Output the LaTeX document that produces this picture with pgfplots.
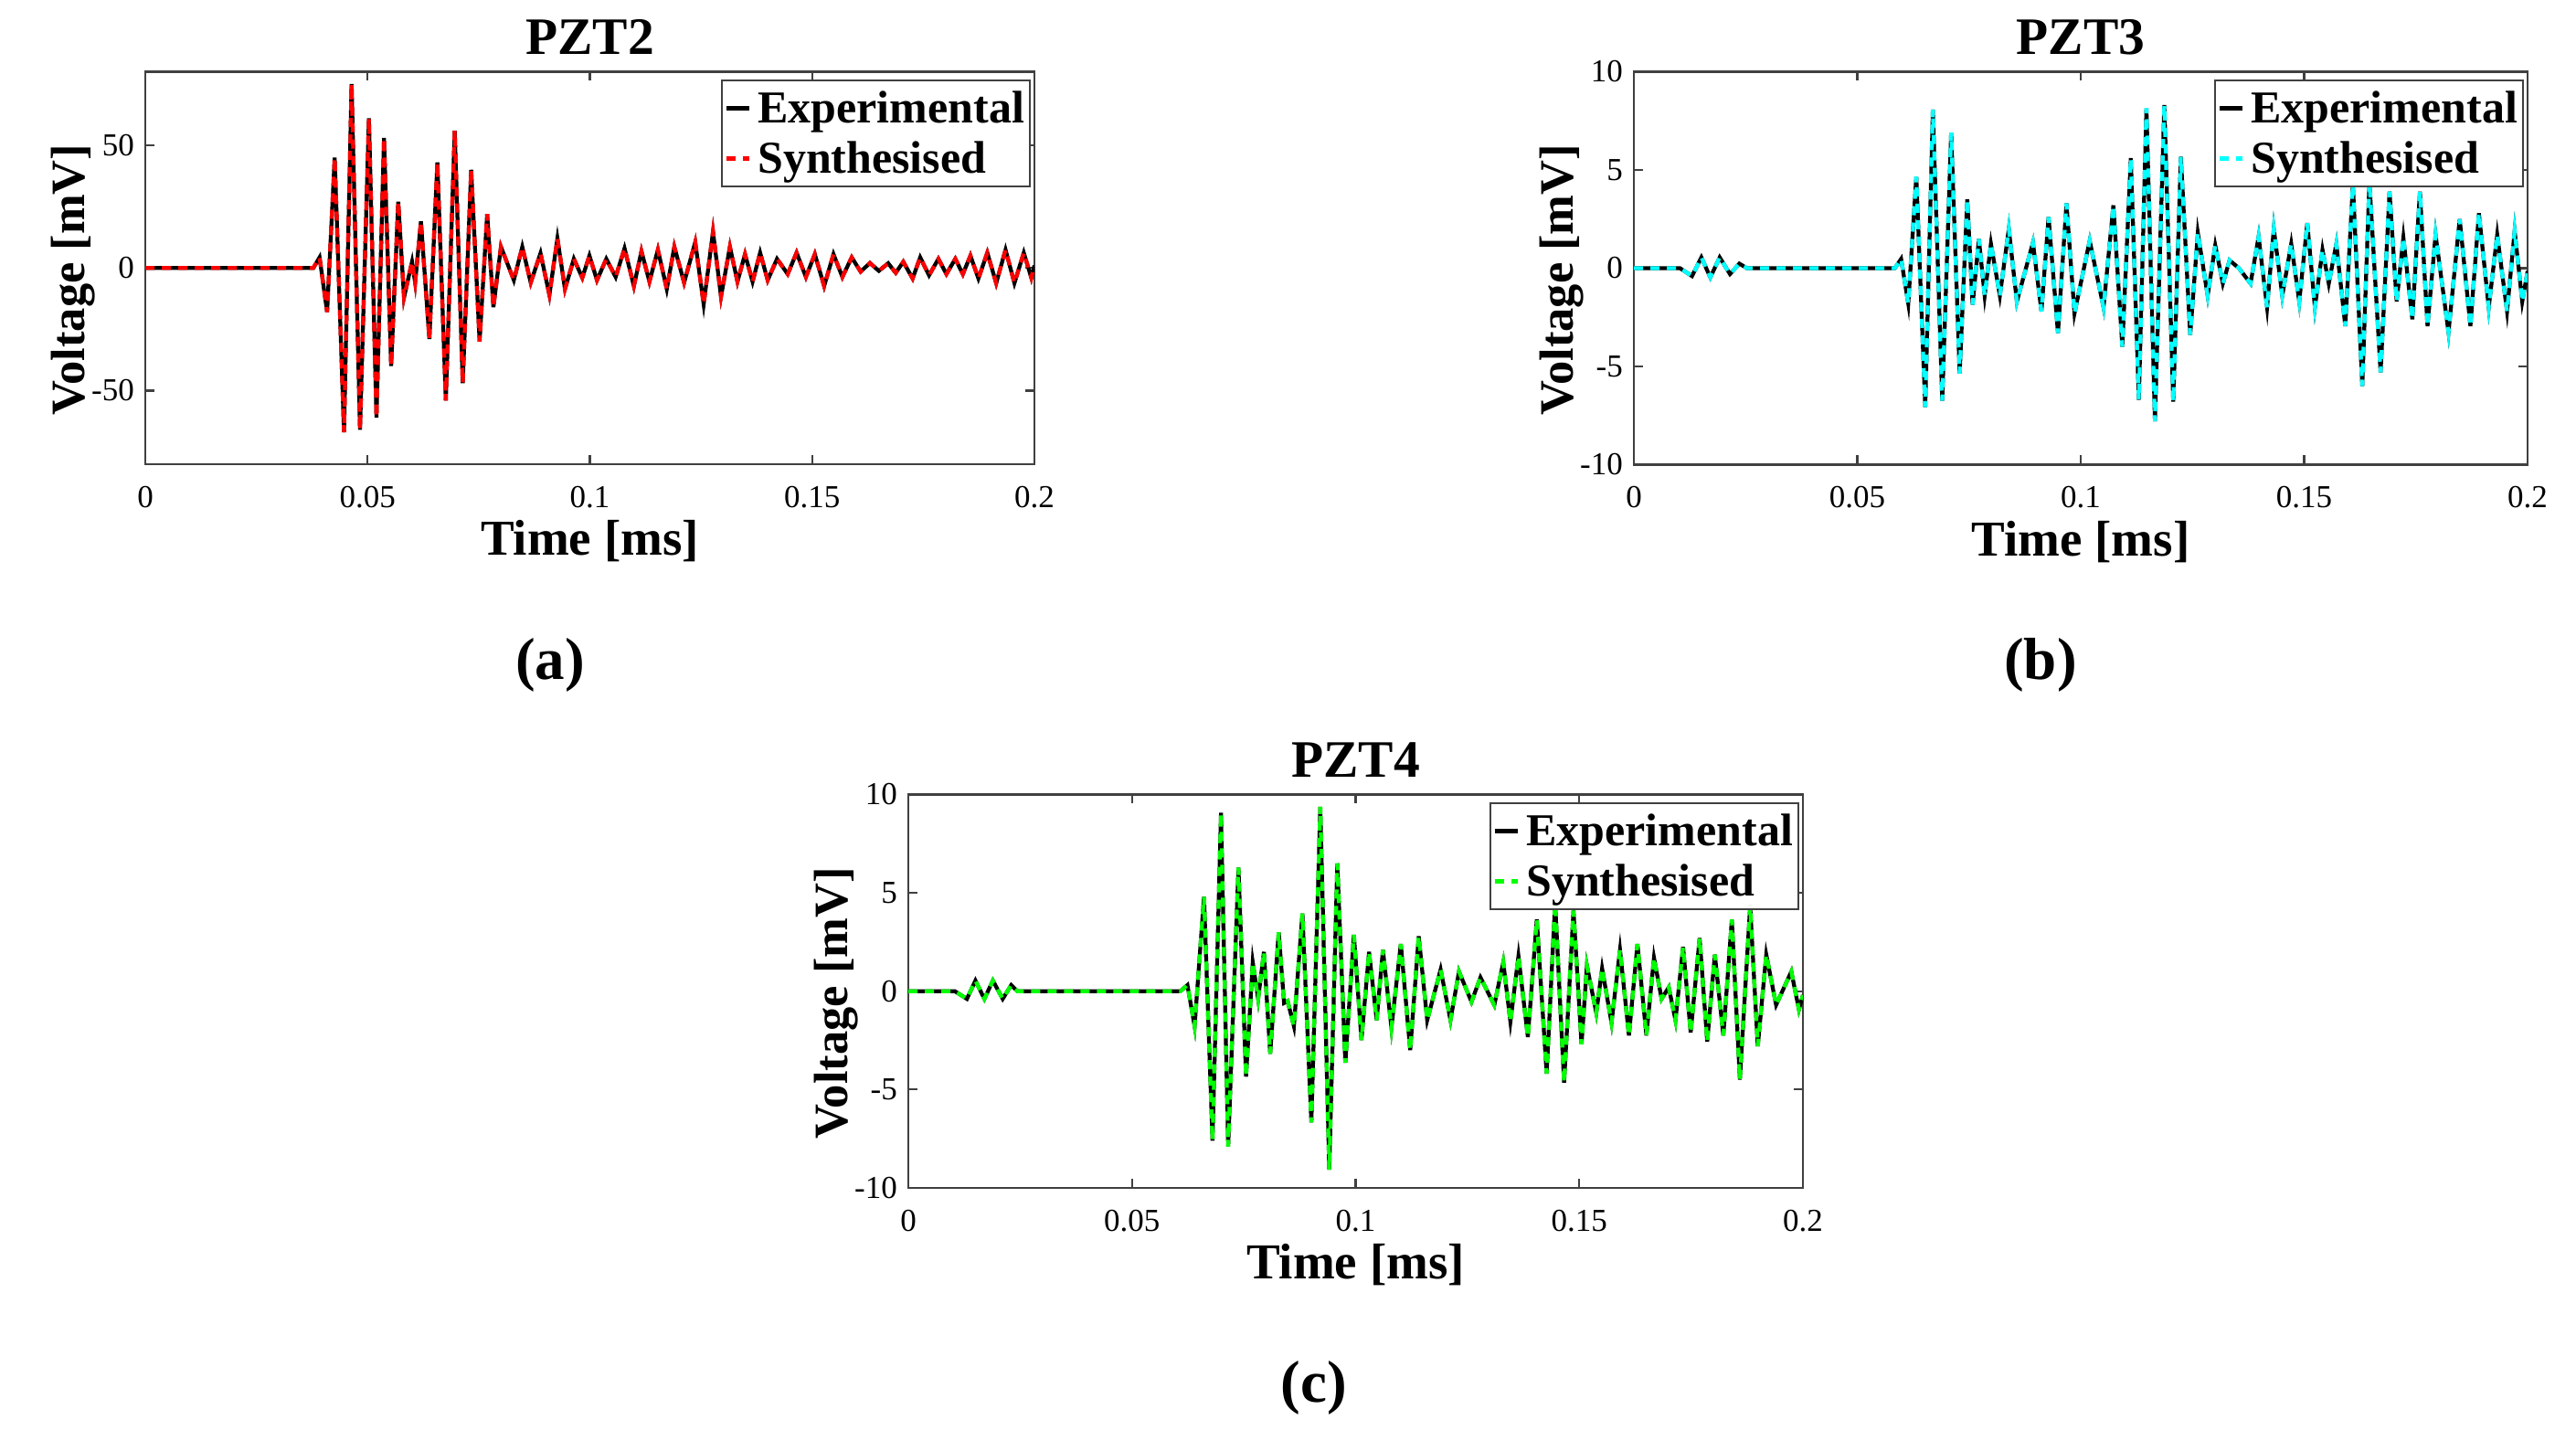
\documentclass[border=0pt]{standalone}
\usepackage{fontspec}
\setmainfont{Liberation Serif}
\usepackage{pgfplots}
\usepackage{pgfplotstable}
\pgfplotsset{compat=1.18}

\definecolor{axgray}{gray}{0.25}
\definecolor{mred}{rgb}{1,0,0}
\definecolor{mcyan}{rgb}{0,1,1}
\definecolor{mgreen}{rgb}{0,1,0}

% PZT2 response (mV), peaks and troughs
\pgfplotstableread{
t v
0 0
0.0378 0
0.0392 4.3
0.0409 -18
0.0426 45
0.0447 -67
0.0464 75
0.0483 -66
0.0503 61
0.0520 -61
0.0537 53
0.0553 -40
0.0569 27
0.0582 -12
0.0600 2.5
0.0607 -6
0.0620 19
0.0639 -29
0.0657 43
0.0676 -54
0.0696 56
0.0714 -47
0.0733 40
0.0752 -30
0.0769 22
0.0783 -16
0.0800 8.6
0.0829 -5
0.0848 8.6
0.0867 -6
0.0889 6
0.0909 -11
0.0927 12
0.0944 -8.6
0.0964 3.7
0.0983 -4
0.0999 5
0.1016 -5
0.1037 3.7
0.1058 -3.7
0.1078 8
0.1099 -7.4
0.1116 6.8
0.1134 -5.6
0.1153 7.4
0.1173 -8.6
0.1190 8.6
0.1212 -6
0.1237 10.5
0.1256 -14.8
0.1277 14.8
0.1295 -11.7
0.1315 8.6
0.1332 -5.6
0.1349 5.6
0.1366 -5.6
0.1383 6.2
0.1400 -5
0.1421 3.7
0.1445 -2.5
0.1465 6.2
0.1486 -3.7
0.1506 5.6
0.1527 -7.4
0.1548 5.6
0.1568 -3.7
0.1589 4.3
0.1609 -1.5
0.1630 2
0.1650 -1.2
0.1671 1.9
0.1688 -2
0.1705 2.5
0.1726 -4.3
0.1743 4.3
0.1763 -3
0.1784 3.7
0.1802 -2.5
0.1822 3.7
0.1839 -2.5
0.1856 5
0.1874 -4.3
0.1894 6.2
0.1914 -6.2
0.1935 7.4
0.1955 -6.2
0.1976 6.2
0.1993 -4
0.2000 1
}\dataA

% PZT3
\pgfplotstableread{
t v
0 0
0.0103 0
0.0130 -0.4
0.0151 0.55
0.0171 -0.47
0.0192 0.55
0.0215 -0.3
0.0236 0.23
0.0253 0
0.0584 0
0.0598 0.47
0.0614 -1.8
0.0632 4.66
0.0652 -7.07
0.0669 8.07
0.0690 -6.75
0.0710 6.9
0.0729 -5.36
0.0746 3.5
0.0758 -1.86
0.0772 1.48
0.0785 -1.4
0.0799 1.24
0.0819 -1.4
0.0839 2.0
0.0857 -1.7
0.0893 1.3
0.0912 -2.2
0.0928 2.6
0.0949 -3.3
0.0968 3.3
0.0986 -2.3
0.1020 1.4
0.1051 -2.0
0.1073 3.2
0.1093 -4.0
0.1112 5.6
0.1130 -6.7
0.1147 8.15
0.1166 -7.8
0.1187 8.3
0.1207 -6.8
0.1224 5.67
0.1245 -3.4
0.1262 1.8
0.1284 -1.4
0.1301 1.16
0.1318 -0.78
0.1333 0.4
0.1354 0
0.1380 -0.78
0.1398 1.6
0.1417 -2.0
0.1432 2.0
0.1451 -1.4
0.1471 1.24
0.1489 -1.7
0.1507 2.3
0.1524 -2.0
0.1541 0.93
0.1555 -0.78
0.1572 1.24
0.1592 -2.95
0.1609 4.27
0.1630 -6.0
0.1646 4.4
0.1671 -5.3
0.1691 3.9
0.1707 -1.7
0.1722 1.55
0.1742 -2.6
0.1759 3.9
0.1776 -2.95
0.1794 1.7
0.1823 -3.26
0.1848 2.5
0.1872 -2.95
0.1891 2.8
0.1913 -2.0
0.1932 1.7
0.1954 -2.2
0.1971 1.9
0.1988 -1.7
0.2000 -0.15
}\dataB

% PZT4
\pgfplotstableread{
t v
0 0
0.0104 0
0.0131 -0.39
0.0150 0.54
0.0170 -0.39
0.0189 0.54
0.0211 -0.39
0.0230 0.31
0.0244 0
0.0608 0
0.0624 0.31
0.0640 -1.78
0.0661 4.8
0.0680 -7.6
0.0699 9.07
0.0715 -7.9
0.0738 6.28
0.0755 -4.34
0.0770 1.47
0.0782 -0.39
0.0795 2.0
0.0809 -3.18
0.0828 3.0
0.0840 -0.6
0.0848 -0.5
0.0862 -1.78
0.0881 3.95
0.0901 -6.67
0.0921 9.38
0.0941 -9.07
0.0959 6.5
0.0977 -3.64
0.0996 2.87
0.1013 -2.48
0.1030 2.0
0.1047 -1.47
0.1061 2.1
0.1080 -1.86
0.1101 2.4
0.1122 -3.0
0.1141 2.8
0.1160 -1.47
0.1190 1.1
0.1212 -1.47
0.1231 1.0
0.1259 -0.54
0.1279 0.7
0.1310 -0.7
0.1330 1.47
0.1346 -1.55
0.1364 1.78
0.1385 -2.33
0.1405 3.64
0.1427 -4.19
0.1446 4.5
0.1466 -4.65
0.1487 4.1
0.1505 -2.7
0.1517 1.3
0.1538 -1.1
0.1551 1.16
0.1572 -1.6
0.1591 2.1
0.1611 -2.25
0.1630 2.4
0.1650 -2.25
0.1667 1.7
0.1684 -0.39
0.1700 0.2
0.1715 -1.47
0.1732 2.25
0.1749 -2.1
0.1769 2.7
0.1786 -2.56
0.1803 1.86
0.1822 -2.25
0.1841 3.64
0.1859 -4.5
0.1882 4.34
0.1899 -2.8
0.1918 1.86
0.1940 -0.7
0.1974 1.0
0.1991 -0.93
0.2000 -0.2
}\dataC

\pgfplotsset{
  panel/.style={
    scale only axis,
    anchor=south west,
    xmin=0, xmax=0.2,
    xtick={0,0.05,0.1,0.15,0.2},
    xticklabels={0,0.05,0.1,0.15,0.2},
    tick align=inside,
    major tick length=2pt,
    axis line style={axgray, line width=0.45pt},
    every tick/.style={axgray, line width=0.45pt},
    tick label style={font=\fontsize{7}{8}\selectfont},
    xticklabel style={yshift=-1.3pt},
    yticklabel style={xshift=1.1pt},
    title style={at={(axis description cs:0.5,1)}, anchor=base, yshift=-2.2pt,
      font=\fontsize{11.5}{13}\selectfont\bfseries},
    xlabel={Time [ms]},
    ylabel={Voltage [mV]},
    xlabel style={at={(axis description cs:0.5,0)}, anchor=base, yshift=-20pt,
      font=\fontsize{11}{13}\selectfont\bfseries},
    ylabel style={at={(axis description cs:-0.068,0.47)}, anchor=base,
      font=\fontsize{10.5}{12}\selectfont\bfseries},
    legend cell align=left,
    legend image code/.code={\draw[##1] (0pt,0pt) -- (5pt,0pt);},
    legend style={at={(axis description cs:1,1)}, anchor=north east,
      xshift=-0.8pt, yshift=-1.7pt, draw=axgray, line width=0.45pt,
      fill=white, inner sep=0.6pt, row sep=0pt, column sep=0.8pt,
      font=\fontsize{10}{11}\selectfont\bfseries,
      nodes={inner sep=0.6pt, text height=8pt, text depth=1.8pt}},
  },
  small/.style={ymin=-10, ymax=10, ytick={-10,-5,0,5,10},
    yticklabels={-10,-5,0,5,10}},
  expline/.style={black, solid, line width=0.85pt},
  synline/.style={line width=0.85pt, dash pattern=on 2pt off 1.6pt},
}

\begin{document}
\begin{tikzpicture}
\path[use as bounding box] (0,0) rectangle (563.8pt,317.8pt);

\begin{axis}[panel, at={(31.8pt,216.2pt)}, width=194.6pt, height=85.9pt,
  title={PZT2}, ymin=-80, ymax=80, ytick={-50,0,50}, yticklabels={-50,0,50}]
\addplot[expline] table[x=t,y=v]{\dataA};
\addlegendentry{Experimental}
\addplot[synline, color=mred] table[x=t,y=v]{\dataA};
\addlegendentry{Synthesised}
\end{axis}

\begin{axis}[panel, small, at={(357.6pt,216.1pt)}, width=195.6pt, height=86pt,
  title={PZT3}]
\addplot[expline] table[x=t,y=v]{\dataB};
\addlegendentry{Experimental}
\addplot[synline, color=mcyan] table[x=t,y=v]{\dataB};
\addlegendentry{Synthesised}
\end{axis}

\begin{axis}[panel, small, at={(198.8pt,57.8pt)}, width=195.8pt, height=86.1pt,
  title={PZT4}]
\addplot[expline] table[x=t,y=v]{\dataC};
\addlegendentry{Experimental}
\addplot[synline, color=mgreen] table[x=t,y=v]{\dataC};
\addlegendentry{Synthesised}
\end{axis}

\node[font=\fontsize{13}{15}\selectfont\bfseries] at (120.4pt,172.2pt) {(a)};
\node[font=\fontsize{13}{15}\selectfont\bfseries] at (446.6pt,172.2pt) {(b)};
\node[font=\fontsize{13}{15}\selectfont\bfseries] at (287.6pt,14pt) {(c)};
\end{tikzpicture}
\end{document}
